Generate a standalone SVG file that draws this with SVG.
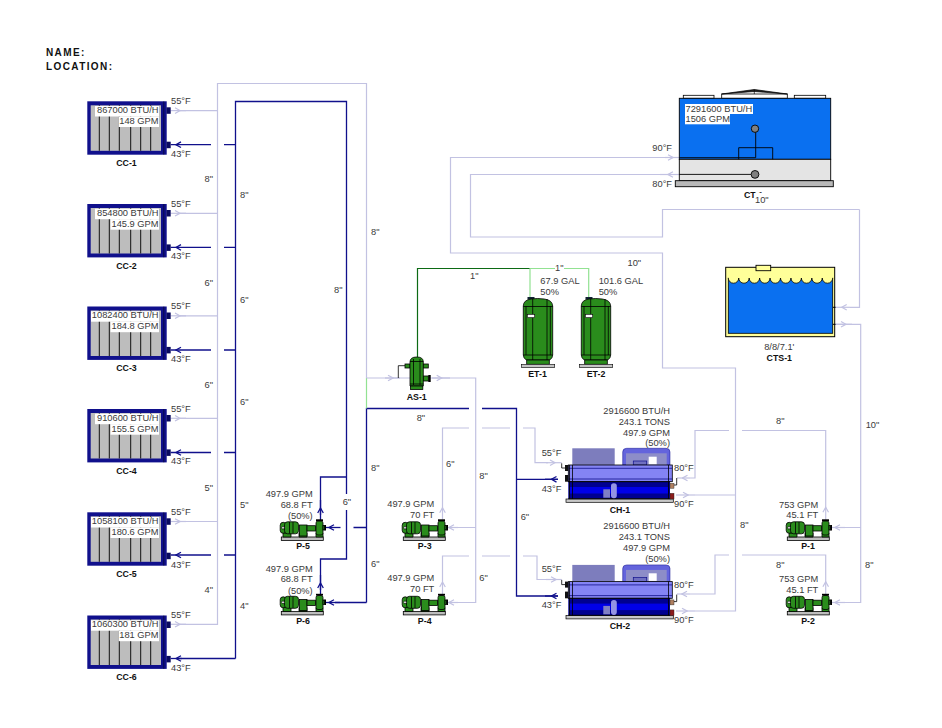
<svg xmlns="http://www.w3.org/2000/svg" width="942" height="728" viewBox="0 0 942 728">
<style>
text{font-family:"Liberation Sans",Arial,sans-serif;font-size:9.3px;fill:#3a3a3a}
.b{font-weight:bold;font-size:8.8px;fill:#111;text-anchor:middle}
.h{font-weight:bold;font-size:10px;letter-spacing:1.4px;fill:#111}
.r{text-anchor:end}
.m{text-anchor:middle}
.w{fill:#fff}
.lp,.dp,.gd,.gl,.la,.da{fill:none}
.lp,.la{stroke:#c2c2e2;stroke-width:1.2}
.dp,.da{stroke:#10108c;stroke-width:1.3}
.gd{stroke:#0c6a14;stroke-width:1.2}
.gl{stroke:#92e292;stroke-width:1.2}
.la{marker-mid:url(#al)}
.da{marker-mid:url(#ad)}
.k{stroke:#000;stroke-width:.8}
.g{fill:#2a8c1c}
.kl{fill:none;stroke:#000;stroke-width:.8}
</style>
<defs>
<marker id="al" markerUnits="userSpaceOnUse" markerWidth="8" markerHeight="8" viewBox="-7 -4 8 8" refX="0" refY="0" orient="auto"><path d="M-5-2.8 0 0-5 2.8" fill="none" stroke="#c2c2e2" stroke-width="1.2"/></marker>
<marker id="ad" markerUnits="userSpaceOnUse" markerWidth="8" markerHeight="8" viewBox="-7 -4 8 8" refX="0" refY="0" orient="auto"><path d="M-5-2.8 0 0-5 2.8" fill="none" stroke="#10108c" stroke-width="1.3"/></marker>
<g id="coil">
<rect x="87.3" y="0" width="79.4" height="53.4" fill="#10108c"/>
<rect x="90.7" y="4" width="70.3" height="45.5" fill="#bdbdbd"/>
<path d="M99.3 4v45.5M109.3 4v45.5M119.3 4v45.5M130.7 4v45.5M140.7 4v45.5M150.7 4v45.5" stroke="#111" stroke-width="1" fill="none"/>
<path d="M163.8 0v53.4" stroke="#000" stroke-width=".5"/>
<rect x="166.4" y="6" width="4.3" height="6.5" fill="#0a0a60"/>
<rect x="166.4" y="40.4" width="4.3" height="6.5" fill="#0a0a60"/>
</g>
<g id="pump">
<rect x="281.3" y="537" width="42" height="3.4" fill="#bdbdbd" stroke="#000" stroke-width=".8"/>
<path d="M283 533h8v4h-8zM299 533h8v4h-8zM316 533h7v4h-7z" class="g k"/>
<rect x="280.2" y="522.3" width="6" height="11" rx="3" class="g k"/>
<rect x="284.5" y="521.8" width="14" height="12" rx="3" class="g k"/>
<path d="M289.5 522v11.5M293 522v11.5" class="kl"/>
<circle cx="283" cy="527.8" r="1.3" fill="#fff" stroke="#000" stroke-width=".6"/>
<rect x="299.5" y="525" width="7.5" height="11" class="g k"/>
<rect x="307" y="525.7" width="8.5" height="5.3" class="g k"/>
<rect x="316" y="521" width="7" height="14" rx="2" class="g k"/>
<rect x="316" y="519.3" width="7" height="1.8" fill="#000"/>
<rect x="323" y="525.5" width="1.4" height="4.5" class="g k"/>
<rect x="324.4" y="525" width="1.6" height="5.5" fill="#000"/>
</g>
<g id="tank">
<rect x="527.5" y="297" width="7" height="2.5" fill="#123"/>
<path d="M523.3 306q0-6 8-7q6-1 13 0q8 1 8.4 7v49q0 3-3 5h-23.4q-3-2-3-5z" class="g k"/>
<path d="M523.3 306.5h29.4M523.3 355h29.4M526 306v49M532.7 299v61M547 299v61M550.3 306v49" class="kl"/>
<rect x="527.3" y="314.3" width="7.4" height="3.4" fill="#fff" stroke="#000" stroke-width=".6"/>
<rect x="526.7" y="360" width="22.6" height="4.3" class="g k"/>
<rect x="521.3" y="364.3" width="33.4" height="3.4" fill="#c4c4c4" stroke="#000" stroke-width=".6"/>
</g>
<g id="chiller">
<rect x="566" y="499" width="107.3" height="3.3" fill="#c8c8c8" stroke="#000" stroke-width=".7"/>
<rect x="572.3" y="448.3" width="42.4" height="16.7" fill="#7d7dbd"/>
<path d="M622.7 465v-13q0-3.7 4-3.7h39.3q4 0 4 3.7v13z" fill="#6464dc" stroke="#10108c" stroke-width=".5"/>
<rect x="626" y="453.3" width="40.7" height="11.7" fill="#8d8dc8"/>
<rect x="633.3" y="461" width="13.4" height="4" fill="#7070c0" stroke="#10108c" stroke-width=".7"/>
<rect x="648.7" y="456.7" width="8" height="7.6" fill="#fff"/>
<rect x="568.3" y="465" width="104" height="16.7" fill="#8484f4" stroke="#000" stroke-width=".8"/>
<path d="M568.3 468.3h104M568.3 479h104" stroke="#10108c" stroke-width=".8"/>
<rect x="568.3" y="482" width="101.7" height="16.7" fill="#000090"/>
<rect x="570" y="487" width="98" height="6.5" fill="#0000e8"/>
<path d="M568.3 481.7h102M568.3 498.7h102" stroke="#000" stroke-width="1"/>
<path d="M569.5 465v34M572.5 465v34M668.5 465v34" stroke="#000" stroke-width=".8"/>
<rect x="603.3" y="489.3" width="6.7" height="8.4" fill="#8080c4"/>
<rect x="611" y="483.3" width="5.8" height="15" rx="2.8" fill="#9494e4"/>
<rect x="565" y="465" width="3.3" height="6" fill="#111"/>
<rect x="565" y="475" width="3.3" height="6.7" fill="#111"/>
<path d="M561.7 463.3v4.700h3.300" class="kl"/>
<rect x="670" y="483.3" width="4" height="5" fill="#b08060" stroke="#222" stroke-width=".4"/>
<rect x="670" y="493.3" width="4" height="5.7" fill="#8c1c1c" stroke="#222" stroke-width=".4"/>
<path d="M676.7 478v7h-2.7" class="kl"/>
</g>
</defs>
<rect width="942" height="728" fill="#fff"/>

<g id="connectors">
<path class="lp" d="M366.5 378V83.5H217.5V624.3H180M217.5 110.6H180M217.5 213.3H180M217.5 315.8H180M217.5 418.3H180M217.5 521.5H180"/>
<polyline class="la" points="170.7,110.6 180,110.6 186,110.6"/>
<polyline class="la" points="170.7,213.3 180,213.3 186,213.3"/>
<polyline class="la" points="170.7,315.8 180,315.8 186,315.8"/>
<polyline class="la" points="170.7,418.3 180,418.3 186,418.3"/>
<polyline class="la" points="170.7,521.5 180,521.5 186,521.5"/>
<polyline class="la" points="170.7,624.3 180,624.3 186,624.3"/>
<path class="dp" d="M235.5 658.5V101.5H346.5V494M346.5 510V559H320.5V590M346.5 477H320.5V515M224 144.7H235.5M224 247.4H235.5M224 350H235.5M224 452.5H235.5M224 555H235.5M235.5 658.5H178"/>
<polyline class="da" points="211,144.7 176,144.7 170.7,144.7"/>
<polyline class="da" points="211,247.4 176,247.4 170.7,247.4"/>
<polyline class="da" points="211,350 176,350 170.7,350"/>
<polyline class="da" points="211,452.5 176,452.5 170.7,452.5"/>
<polyline class="da" points="211,555 176,555 170.7,555"/>
<polyline class="da" points="182,658.5 176,658.5 170.7,658.5"/>
<polyline class="da" points="320.5,520 320.5,508 320.5,500"/>
<polyline class="da" points="320.5,595 320.5,583 320.5,575"/>
<path class="dp" d="M366.5 602.5V408.5H469M482 408.5H516.5V596H558M366.5 527.5H353.5M516.5 479.3H558M366.5 602.5H335"/>
<polyline class="da" points="340.5,527.5 329,527.5 326,527.5"/>
<polyline class="da" points="340,602.5 329,602.5 326,602.5"/>
<polyline class="da" points="558,479.3 551.5,479.3 545,479.3"/>
<polyline class="da" points="558,596 551.5,596 545,596"/>
<path class="gd" d="M417.5 357V268.5H530"/>
<path class="gl" d="M530 298V268.5H555M564 268.5H588.7V298M366.5 378V408.5"/>
<path class="lp" d="M366.5 378H412M430 378H475.7V602.5H455M475.7 527.5H455"/>
<polyline class="la" points="385,378 393,378 400,378"/>
<polyline class="la" points="432,378 441.7,378 450,378"/>
<polyline class="la" points="458,527.5 449,527.5 447,527.5"/>
<polyline class="la" points="458,602.5 449,602.5 447,602.5"/>
<path class="lp" d="M442.5 500V428H469M482 428H510M523 428H535V462.7H548M442.5 575V556H469M482 556H510M523 556H537V579.5H548"/>
<polyline class="la" points="442.5,519.5 442.5,507.7 442.5,500"/>
<polyline class="la" points="442.5,594 442.5,582 442.5,575"/>
<polyline class="la" points="546,462.7 555,462.7 561.7,462.7"/>
<polyline class="la" points="546,579.5 556,579.5 561.7,579.5"/>
<path class="lp" d="M825.7 500V430.5H742M729 430.5H695V478H690M825.7 575V555H742M729 555H715V594H690M859.5 209.5V307.3H850M835 324.3H860.7V602.5H842M860.7 527.5H842"/>
<polyline class="la" points="825.7,520 825.7,507.3 825.7,500"/>
<polyline class="la" points="825.7,594 825.7,581.7 825.7,575"/>
<polyline class="la" points="690,478 682.5,478 677,478"/>
<polyline class="la" points="690,594 682,594 677,594"/>
<polyline class="la" points="845,527.5 835,527.5 830,527.5"/>
<polyline class="la" points="845,602.5 835,602.5 830,602.5"/>
<polyline class="la" points="850,307.3 841.7,307.3 835,307.3"/>
<polyline class="la" points="836,324.3 846,324.3 852,324.3"/>
<polyline class="la" points="676,495 688,495 695,495"/>
<polyline class="la" points="676,611 687,611 695,611"/>
<path class="lp" d="M695 495H735.5M695 611H735.5V368H662.5V253H450.5V157.5H665M660 174.5H470.5V237H662.5V209.5H859.5"/>
<polyline class="la" points="665,157.5 673,157.5 679,157.5"/>
<polyline class="la" points="679,174.5 668,174.5 660,174.5"/>
</g>

<g id="title">
<text class="h" x="46" y="56">NAME:</text>
<text class="h" x="46" y="70">LOCATION:</text>
</g>

<g id="CC-1"><use href="#coil" y="101.3"/>
<rect class="w" x="95" y="106" width="64" height="10.5"/><rect class="w" x="118.7" y="116.5" width="40.3" height="10.5"/>
<text class="r" x="158.5" y="112.8">867000 BTU/H</text><text class="r" x="158.5" y="123.8">148 GPM</text>
<text x="171" y="104">55°F</text><text x="171" y="156.7">43°F</text><text class="b" x="126.5" y="166">CC-1</text></g>
<g id="CC-2"><use href="#coil" y="204"/>
<rect class="w" x="95" y="208.7" width="64" height="10.5"/><rect class="w" x="110.5" y="219.2" width="48.5" height="10.5"/>
<text class="r" x="158.5" y="215.5">854800 BTU/H</text><text class="r" x="158.5" y="226.5">145.9 GPM</text>
<text x="171" y="206.7">55°F</text><text x="171" y="259.3">43°F</text><text class="b" x="126.5" y="268.7">CC-2</text></g>
<g id="CC-3"><use href="#coil" y="306.5"/>
<rect class="w" x="91" y="311.2" width="68" height="10.5"/><rect class="w" x="110.5" y="321.7" width="48.5" height="10.5"/>
<text class="r" x="158.5" y="318">1082400 BTU/H</text><text class="r" x="158.5" y="329">184.8 GPM</text>
<text x="171" y="309.2">55°F</text><text x="171" y="361.8">43°F</text><text class="b" x="126.5" y="371.2">CC-3</text></g>
<g id="CC-4"><use href="#coil" y="409"/>
<rect class="w" x="95" y="413.7" width="64" height="10.5"/><rect class="w" x="110.5" y="424.2" width="48.5" height="10.5"/>
<text class="r" x="158.5" y="420.5">910600 BTU/H</text><text class="r" x="158.5" y="431.5">155.5 GPM</text>
<text x="171" y="411.7">55°F</text><text x="171" y="464.3">43°F</text><text class="b" x="126.5" y="473.7">CC-4</text></g>
<g id="CC-5"><use href="#coil" y="512.3"/>
<rect class="w" x="91" y="517" width="68" height="10.5"/><rect class="w" x="110.5" y="527.5" width="48.5" height="10.5"/>
<text class="r" x="158.5" y="523.8">1058100 BTU/H</text><text class="r" x="158.5" y="534.8">180.6 GPM</text>
<text x="171" y="515">55°F</text><text x="171" y="567.6">43°F</text><text class="b" x="126.5" y="577">CC-5</text></g>
<g id="CC-6"><use href="#coil" y="615.5"/>
<rect class="w" x="91" y="620.2" width="68" height="10.5"/><rect class="w" x="118.7" y="630.7" width="40.3" height="10.5"/>
<text class="r" x="158.5" y="627">1060300 BTU/H</text><text class="r" x="158.5" y="638">181 GPM</text>
<text x="171" y="618.2">55°F</text><text x="171" y="670.8">43°F</text><text class="b" x="126.5" y="680.2">CC-6</text></g>

<g id="CT-1">
<rect x="683.3" y="95.3" width="30.7" height="3" fill="#fff" stroke="#000" stroke-width=".8"/>
<rect x="721.7" y="94" width="65.6" height="4.3" fill="#fff" stroke="#000" stroke-width=".8"/>
<rect x="794.3" y="95.3" width="31.4" height="3" fill="#fff" stroke="#000" stroke-width=".8"/>
<path d="M721.7 94 754.3 89.5 787.3 94 754.3 91.5zM754.3 89.5v4.5" fill="#222" stroke="#000" stroke-width=".7"/>
<rect x="679.3" y="98.3" width="151.4" height="61" fill="#0a70f0" stroke="#000" stroke-width=".9"/>
<rect x="679.3" y="159.3" width="151.4" height="21.4" fill="#e4e4e4" stroke="#000" stroke-width=".9"/>
<rect x="675.3" y="180.7" width="158" height="6" fill="#b8b8b8" stroke="#000" stroke-width=".9"/>
<path d="M679.3 157.7H755.7V132M738.7 159.3V147.7H772.7V159.3M679.3 174.4H751" fill="none" stroke="#000" stroke-width=".9"/>
<circle cx="755" cy="128.7" r="3.7" fill="#808080" stroke="#000" stroke-width=".9"/>
<circle cx="755" cy="174.4" r="3.9" fill="#808080" stroke="#000" stroke-width=".9"/>
<rect class="w" x="685" y="104" width="68" height="10"/><rect class="w" x="685" y="114" width="45" height="10.3"/>
<text x="685.5" y="112.3">7291600 BTU/H</text><text x="685.5" y="122.3">1506 GPM</text>
<text x="652.3" y="150.7">90°F</text><text x="652.3" y="187.3">80°F</text>
<text class="b" x="744" y="198" style="text-anchor:start">CT-1</text>
<rect class="w" x="755" y="192.8" width="14" height="12"/>
</g>

<g id="CTS-1">
<rect x="725.7" y="267.3" width="109" height="69.4" fill="#ffff99" stroke="#000" stroke-width="1"/>
<rect x="728.3" y="278" width="104.4" height="55.3" fill="#0a70f0" stroke="#000" stroke-width=".8"/>
<rect x="728.3" y="269.3" width="104.4" height="9" fill="#ffff99"/>
<path d="M728.3 278a5.22 5.22 0 0 0 10.44 0a5.22 5.22 0 0 0 10.44 0a5.22 5.22 0 0 0 10.44 0a5.22 5.22 0 0 0 10.44 0a5.22 5.22 0 0 0 10.44 0a5.22 5.22 0 0 0 10.44 0a5.22 5.22 0 0 0 10.44 0a5.22 5.22 0 0 0 10.44 0a5.22 5.22 0 0 0 10.44 0a5.22 5.22 0 0 0 10.44 0" fill="#ffff99" stroke="#000" stroke-width=".8"/>
<rect x="756" y="265.3" width="14.7" height="5.4" fill="#ffff99" stroke="#000" stroke-width=".9"/>
<path d="M833 307.3h2.5M833 324.3h2.5" stroke="#000"/>
<text class="m" x="779.3" y="350">8/8/7.1'</text>
<text class="b" x="779.3" y="360.7">CTS-1</text>
</g>

<g id="ET-1"><use href="#tank"/><text x="540.3" y="284">67.9 GAL</text><text x="540.3" y="295">50%</text><text class="b" x="537.5" y="376.7">ET-1</text></g>
<g id="ET-2"><use href="#tank" x="58"/><text x="598.7" y="284">101.6 GAL</text><text x="598.7" y="295">50%</text><text class="b" x="596" y="376.7">ET-2</text></g>

<g id="AS-1">
<path d="M398.3 378v-12.3h6.7" class="kl"/>
<rect x="405" y="364" width="5" height="4" class="g k"/>
<rect x="423.3" y="364" width="5" height="4" class="g k"/>
<rect x="423.3" y="376" width="5" height="5" class="g k"/>
<rect x="428.3" y="375" width="2.4" height="7" fill="#000"/>
<path d="M410 362q0-5 6.7-5t6.6 5v24h-13.3z" class="g k"/>
<path d="M410 361.5h13.3M410 384h13.3M413.5 359v26M420 359v26" class="kl"/>
<rect x="410.500" y="386" width="12.3" height="3.500" class="g k"/>
<text class="b" x="416.7" y="400">AS-1</text>
</g>

<g id="CH-1"><use href="#chiller"/>
<text class="r" x="670" y="414">2916600 BTU/H</text><text class="r" x="670" y="424.5">243.1 TONS</text><text class="r" x="670" y="435.7">497.9 GPM</text><text class="r" x="670" y="446">(50%)</text>
<text x="541.7" y="456">55°F</text><text x="541.7" y="491.7">43°F</text><text x="674" y="470.7">80°F</text><text x="674" y="506.7">90°F</text>
<text class="b" x="620" y="512.7">CH-1</text></g>
<g id="CH-2"><use href="#chiller" y="116.6"/>
<text class="r" x="670" y="529.3">2916600 BTU/H</text><text class="r" x="670" y="540">243.1 TONS</text><text class="r" x="670" y="550.7">497.9 GPM</text><text class="r" x="670" y="561.7">(50%)</text>
<text x="541.7" y="571.7">55°F</text><text x="541.7" y="607.7">43°F</text><text x="674" y="587.7">80°F</text><text x="674" y="623.3">90°F</text>
<text class="b" x="620" y="629">CH-2</text></g>

<g id="P-5"><use href="#pump"/><text class="r" x="312.7" y="496.7">497.9 GPM</text><text class="r" x="312.7" y="507.6">68.8 FT</text><text class="r" x="312.7" y="518.5">(50%)</text><text class="b" x="303" y="549.3">P-5</text></g>
<g id="P-6"><use href="#pump" y="74.5"/><text class="r" x="312.7" y="571.7">497.9 GPM</text><text class="r" x="312.7" y="582.3">68.8 FT</text><text class="r" x="312.7" y="593.7">(50%)</text><text class="b" x="303" y="624.3">P-6</text></g>
<g id="P-3"><use href="#pump" x="122"/><text class="r" x="434.3" y="507.3">497.9 GPM</text><text class="r" x="434.3" y="518">70 FT</text><text class="b" x="424.7" y="549.3">P-3</text></g>
<g id="P-4"><use href="#pump" x="122" y="74.5"/><text class="r" x="434.3" y="581.3">497.9 GPM</text><text class="r" x="434.3" y="592.3">70 FT</text><text class="b" x="424.7" y="624.3">P-4</text></g>
<g id="P-1"><use href="#pump" x="506"/><text class="r" x="818.3" y="507.7">753 GPM</text><text class="r" x="818.3" y="518.3">45.1 FT</text><text class="b" x="808" y="549.3">P-1</text></g>
<g id="P-2"><use href="#pump" x="506" y="74.5"/><text class="r" x="818.3" y="581.7">753 GPM</text><text class="r" x="818.3" y="592.7">45.1 FT</text><text class="b" x="808" y="624.3">P-2</text></g>

<g id="pipe-labels">
<text x="204.5" y="182">8"</text><text x="240" y="198">8"</text><text x="371" y="235">8"</text><text x="334" y="293">8"</text>
<text x="204.5" y="286">6"</text><text x="240" y="303">6"</text><text x="204.5" y="388">6"</text><text x="240" y="405">6"</text>
<text x="204.5" y="491">5"</text><text x="240" y="508">5"</text><text x="204.5" y="592.7">4"</text><text x="240" y="609">4"</text>
<text x="342.7" y="504.7">6"</text><text x="371" y="470.7">8"</text><text x="371" y="567">6"</text>
<text x="446" y="466.7">6"</text><text x="479.3" y="479.3">8"</text><text x="479.3" y="581.3">6"</text>
<text x="416.7" y="420.7">8"</text><text x="520.7" y="520">6"</text>
<text x="470" y="279">1"</text><text x="555" y="270.7">1"</text><text x="627.5" y="266">10"</text><text x="755" y="202.7">10"</text>
<text x="776" y="424">8"</text><text x="865.7" y="428.3">10"</text><text x="740" y="527.7">8"</text><text x="776" y="567.7">8"</text><text x="865" y="567.7">8"</text>
</g>
</svg>
